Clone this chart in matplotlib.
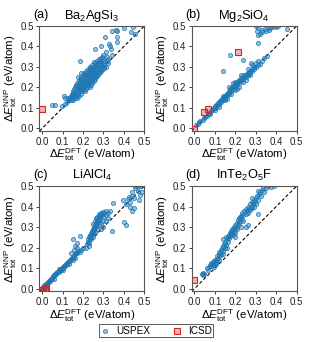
import numpy as np
import matplotlib
matplotlib.use("Agg")
import matplotlib.pyplot as plt

plt.rcParams["font.family"] = ["Liberation Sans", "DejaVu Sans"]
plt.rcParams["mathtext.fontset"] = "custom"
plt.rcParams["mathtext.rm"] = "Liberation Sans"
plt.rcParams["mathtext.it"] = "Liberation Sans:italic"
plt.rcParams["mathtext.bf"] = "Liberation Sans:bold"

# panel titles
labels = ["(a)", "(b)", "(c)", "(d)"]
formulas = [r"Ba$_2$AgSi$_3$", r"Mg$_2$SiO$_4$", r"LiAlCl$_4$", r"InTe$_2$O$_5$F"]
ticks = [0.0, 0.1, 0.2, 0.3, 0.4, 0.5]

# (DFT, NNP) energies in eV/atom
uspex_a = [
    (0.046, 0.114), (0.062, 0.114), (0.098, 0.107), (0.107, 0.16), (0.114, 0.148),
    (0.11, 0.12), (0.12, 0.13), (0.125, 0.15),
    (0.13, 0.14), (0.14, 0.14), (0.15, 0.14),
    (0.13, 0.15), (0.145, 0.15), (0.16, 0.15), (0.17, 0.15),
    (0.14, 0.16), (0.15, 0.16), (0.165, 0.16), (0.18, 0.16),
    (0.145, 0.17), (0.16, 0.17), (0.175, 0.17), (0.19, 0.17),
    (0.15, 0.18), (0.165, 0.18), (0.18, 0.18), (0.195, 0.18), (0.21, 0.18),
    (0.155, 0.19), (0.17, 0.19), (0.185, 0.19), (0.2, 0.19), (0.215, 0.19),
    (0.16, 0.2), (0.175, 0.2), (0.19, 0.2), (0.205, 0.2), (0.22, 0.2), (0.235, 0.2),
    (0.165, 0.21), (0.18, 0.21), (0.195, 0.21), (0.21, 0.21), (0.225, 0.21), (0.24, 0.21),
    (0.17, 0.22), (0.185, 0.22), (0.2, 0.22), (0.215, 0.22), (0.23, 0.22), (0.245, 0.22),
    (0.18, 0.23), (0.195, 0.23), (0.21, 0.23), (0.225, 0.23), (0.24, 0.23), (0.255, 0.23),
    (0.185, 0.24), (0.2, 0.24), (0.215, 0.24), (0.23, 0.24), (0.245, 0.24), (0.26, 0.24),
    (0.19, 0.25), (0.205, 0.25), (0.22, 0.25), (0.235, 0.25), (0.25, 0.25), (0.265, 0.25),
    (0.2, 0.26), (0.215, 0.26), (0.23, 0.26), (0.245, 0.26), (0.26, 0.26), (0.275, 0.26),
    (0.205, 0.27), (0.22, 0.27), (0.235, 0.27), (0.25, 0.27), (0.265, 0.27), (0.28, 0.27),
    (0.215, 0.28), (0.23, 0.28), (0.245, 0.28), (0.26, 0.28), (0.275, 0.28), (0.29, 0.28),
    (0.225, 0.29), (0.24, 0.29), (0.255, 0.29), (0.27, 0.29), (0.285, 0.29), (0.3, 0.29),
    (0.235, 0.3), (0.25, 0.3), (0.265, 0.3), (0.28, 0.3), (0.295, 0.3), (0.31, 0.3),
    (0.245, 0.31), (0.26, 0.31), (0.275, 0.31), (0.29, 0.31), (0.305, 0.31),
    (0.26, 0.32), (0.275, 0.32), (0.29, 0.32), (0.305, 0.32), (0.32, 0.32),
    (0.27, 0.33), (0.285, 0.33), (0.3, 0.33), (0.315, 0.33),
    (0.28, 0.34), (0.3, 0.34), (0.32, 0.34), (0.295, 0.35), (0.315, 0.35), (0.3, 0.36),
    (0.152, 0.175), (0.172, 0.205), (0.192, 0.235), (0.212, 0.265), (0.232, 0.295),
    (0.252, 0.325), (0.168, 0.165), (0.188, 0.195), (0.208, 0.225), (0.228, 0.255),
    (0.248, 0.285), (0.268, 0.315), (0.288, 0.345), (0.142, 0.155), (0.222, 0.215),
    (0.242, 0.235), (0.262, 0.255), (0.282, 0.275), (0.302, 0.295), (0.198, 0.185),
    (0.176, 0.249), (0.19, 0.27), (0.184, 0.33), (0.257, 0.388), (0.29, 0.404),
    (0.314, 0.371), (0.339, 0.388), (0.326, 0.412), (0.332, 0.4), (0.365, 0.42),
    (0.306, 0.445), (0.342, 0.474), (0.36, 0.482), (0.368, 0.477), (0.368, 0.445),
    (0.4, 0.49), (0.436, 0.469), (0.445, 0.493), (0.454, 0.463), (0.34, 0.36),
]
icsd_a = [(0.0, 0.095)]

uspex_b = [
    (0.01, 0.015), (0.02, 0.02), (0.025, 0.03), (0.03, 0.035), (0.04, 0.04),
    (0.045, 0.05), (0.05, 0.055), (0.06, 0.06), (0.065, 0.07), (0.07, 0.075),
    (0.075, 0.07), (0.08, 0.085), (0.085, 0.09), (0.09, 0.095), (0.095, 0.1),
    (0.1, 0.1), (0.1, 0.11), (0.105, 0.115), (0.11, 0.11), (0.115, 0.125),
    (0.12, 0.12), (0.12, 0.13), (0.125, 0.135), (0.13, 0.13), (0.13, 0.14),
    (0.135, 0.145), (0.14, 0.14), (0.14, 0.15), (0.145, 0.155), (0.15, 0.15),
    (0.15, 0.16), (0.155, 0.165), (0.16, 0.16), (0.16, 0.17), (0.165, 0.175),
    (0.17, 0.17), (0.17, 0.18), (0.175, 0.19), (0.18, 0.18), (0.18, 0.19),
    (0.185, 0.2), (0.19, 0.19), (0.19, 0.2), (0.195, 0.21), (0.2, 0.2),
    (0.2, 0.21), (0.205, 0.22), (0.21, 0.21), (0.21, 0.22), (0.215, 0.23),
    (0.22, 0.22), (0.22, 0.23), (0.225, 0.24), (0.23, 0.23), (0.23, 0.24),
    (0.235, 0.25), (0.24, 0.24), (0.24, 0.25), (0.245, 0.26), (0.25, 0.25),
    (0.25, 0.26), (0.255, 0.265), (0.26, 0.26), (0.26, 0.27), (0.265, 0.275),
    (0.27, 0.27), (0.27, 0.28), (0.28, 0.28), (0.28, 0.29), (0.29, 0.29),
    (0.29, 0.3), (0.3, 0.3), (0.31, 0.31), (0.32, 0.315), (0.33, 0.33),
    (0.12, 0.105), (0.15, 0.14), (0.18, 0.17), (0.2, 0.185), (0.21, 0.19),
    (0.24, 0.225), (0.27, 0.26), (0.16, 0.145), (0.1, 0.09), (0.22, 0.2), (0.25, 0.235),
    (0.17, 0.2), (0.19, 0.22), (0.23, 0.26), (0.26, 0.29), (0.28, 0.31),
    (0.3, 0.32), (0.31, 0.33), (0.2, 0.225), (0.14, 0.16),
    (0.174, 0.36), (0.142, 0.28), (0.239, 0.334), (0.309, 0.415), (0.353, 0.352),
    (0.277, 0.318), (0.34, 0.345),
    (0.305, 0.474), (0.313, 0.49), (0.32, 0.46), (0.332, 0.48), (0.345, 0.485),
    (0.358, 0.493), (0.37, 0.49), (0.38, 0.497), (0.39, 0.5), (0.4, 0.495),
    (0.313, 0.455), (0.33, 0.47), (0.35, 0.475), (0.365, 0.48), (0.454, 0.485),
    (0.41, 0.5), (0.3, 0.5),
]
icsd_b = [(0.0, -0.003), (0.049, 0.078), (0.068, 0.094), (0.215, 0.375)]

uspex_c = [
    (0.0, 0.005), (0.005, 0.01), (0.01, 0.01), (0.01, 0.02), (0.015, 0.015),
    (0.02, 0.02), (0.02, 0.025), (0.025, 0.03), (0.03, 0.03), (0.03, 0.035),
    (0.035, 0.04), (0.04, 0.04), (0.04, 0.045), (0.045, 0.05), (0.05, 0.05),
    (0.05, 0.055), (0.055, 0.06), (0.06, 0.06), (0.06, 0.065), (0.065, 0.07),
    (0.07, 0.07), (0.07, 0.075), (0.075, 0.08), (0.08, 0.08), (0.08, 0.085),
    (0.085, 0.09), (0.09, 0.09), (0.09, 0.095), (0.095, 0.1), (0.1, 0.1),
    (0.1, 0.105), (0.105, 0.11), (0.11, 0.11), (0.11, 0.115), (0.115, 0.12),
    (0.12, 0.12), (0.12, 0.125), (0.125, 0.13), (0.13, 0.135), (0.135, 0.14),
    (0.14, 0.145), (0.145, 0.15), (0.15, 0.155), (0.155, 0.16), (0.16, 0.17),
    (0.165, 0.175), (0.17, 0.175), (0.175, 0.185), (0.185, 0.18), (0.19, 0.19),
    (0.2, 0.2), (0.1, 0.09), (0.13, 0.12), (0.15, 0.14), (0.16, 0.15),
    (0.06, 0.05), (0.02, 0.01), (0.01, 0.0), (0.08, 0.095),
    (0.15, 0.24), (0.185, 0.255), (0.17, 0.225), (0.17, 0.2), (0.14, 0.175),
    (0.155, 0.19), (0.16, 0.21),
    (0.22, 0.22), (0.225, 0.23), (0.23, 0.225), (0.225, 0.24), (0.23, 0.25),
    (0.235, 0.245), (0.235, 0.26), (0.24, 0.255), (0.24, 0.27), (0.245, 0.265),
    (0.245, 0.28), (0.25, 0.275), (0.25, 0.29), (0.255, 0.285), (0.255, 0.3),
    (0.26, 0.295), (0.26, 0.31), (0.265, 0.305), (0.265, 0.32), (0.27, 0.315),
    (0.27, 0.33), (0.275, 0.325), (0.275, 0.34), (0.28, 0.335), (0.28, 0.35),
    (0.285, 0.345), (0.285, 0.36), (0.29, 0.355), (0.29, 0.37), (0.295, 0.365),
    (0.3, 0.375), (0.305, 0.37), (0.31, 0.38), (0.3, 0.35), (0.31, 0.36),
    (0.32, 0.37), (0.3, 0.33), (0.29, 0.32), (0.28, 0.31), (0.27, 0.29),
    (0.26, 0.27), (0.25, 0.25), (0.24, 0.24), (0.23, 0.21), (0.215, 0.2),
    (0.25, 0.315), (0.26, 0.33), (0.27, 0.35), (0.28, 0.365), (0.265, 0.345),
    (0.3, 0.3), (0.29, 0.29), (0.31, 0.33), (0.32, 0.345),
    (0.349, 0.416), (0.34, 0.28), (0.41, 0.31), (0.4, 0.325), (0.33, 0.38),
    (0.41, 0.41), (0.42, 0.435), (0.43, 0.42), (0.425, 0.445), (0.44, 0.45),
    (0.45, 0.44), (0.44, 0.47), (0.455, 0.49), (0.47, 0.475), (0.48, 0.455),
    (0.485, 0.5), (0.475, 0.43), (0.49, 0.47), (0.46, 0.5), (0.43, 0.4),
    (0.44, 0.38), (0.45, 0.395), (0.398, 0.432), (0.47, 0.5),
]
icsd_c = [(0.0, -0.004), (0.012, 0.0), (0.02, 0.006)]

uspex_d = [
    (0.035, 0.07), (0.04, 0.065), (0.045, 0.07), (0.04, 0.075), (0.06, 0.1),
    (0.065, 0.09), (0.07, 0.105), (0.075, 0.115), (0.08, 0.11), (0.085, 0.12),
    (0.09, 0.13), (0.09, 0.115), (0.095, 0.135), (0.1, 0.125), (0.1, 0.14),
    (0.105, 0.13), (0.11, 0.145), (0.11, 0.16), (0.115, 0.15), (0.12, 0.165),
    (0.12, 0.14), (0.125, 0.175), (0.13, 0.165), (0.13, 0.19), (0.135, 0.2),
    (0.14, 0.185), (0.14, 0.21), (0.145, 0.22), (0.15, 0.2), (0.15, 0.23),
    (0.155, 0.215), (0.16, 0.24), (0.165, 0.25), (0.165, 0.23), (0.17, 0.26),
    (0.17, 0.245), (0.175, 0.255), (0.175, 0.27), (0.18, 0.265), (0.18, 0.28),
    (0.185, 0.27), (0.185, 0.29), (0.19, 0.26), (0.19, 0.285), (0.195, 0.3),
    (0.2, 0.29), (0.2, 0.31), (0.205, 0.3), (0.21, 0.32), (0.21, 0.29),
    (0.215, 0.335), (0.22, 0.32), (0.22, 0.345), (0.225, 0.33), (0.23, 0.355),
    (0.235, 0.34), (0.235, 0.37), (0.24, 0.36), (0.245, 0.38), (0.25, 0.365),
    (0.25, 0.39), (0.255, 0.38), (0.26, 0.4), (0.26, 0.37), (0.265, 0.39),
    (0.27, 0.41), (0.27, 0.385), (0.275, 0.4), (0.28, 0.42), (0.28, 0.395),
    (0.285, 0.41), (0.29, 0.43), (0.295, 0.42), (0.3, 0.44), (0.3, 0.41),
    (0.305, 0.45), (0.31, 0.43), (0.315, 0.46), (0.32, 0.47), (0.325, 0.45),
    (0.33, 0.48), (0.335, 0.49), (0.34, 0.47), (0.35, 0.49), (0.36, 0.5),
    (0.375, 0.495), (0.39, 0.5), (0.31, 0.365), (0.26, 0.31), (0.25, 0.3),
    (0.2, 0.27), (0.23, 0.3), (0.24, 0.33), (0.14, 0.24), (0.155, 0.25),
    (0.16, 0.2), (0.12, 0.18), (0.08, 0.125), (0.095, 0.105), (0.105, 0.12),
    (0.14, 0.17), (0.195, 0.275), (0.215, 0.31), (0.225, 0.35), (0.29, 0.4),
    (0.28, 0.44), (0.31, 0.475), (0.2, 0.25),
]
icsd_d = [(0.0, 0.045)]

uspex = [uspex_a, uspex_b, uspex_c, uspex_d]
icsd = [icsd_a, icsd_b, icsd_c, icsd_d]

blue_face = (0.12, 0.47, 0.71, 0.45)
blue_edge = (0.12, 0.47, 0.71, 0.85)
red_face = (0.84, 0.15, 0.16, 0.35)
red = "#d62728"
lo, hi = -0.013, 0.5

fig = plt.figure(figsize=(3.12, 3.42), dpi=100)
positions = [
    [0.1266, 0.617, 0.336, 0.307],
    [0.6144, 0.617, 0.3365, 0.307],
    [0.1266, 0.1477, 0.336, 0.3085],
    [0.6144, 0.1477, 0.3365, 0.3085],
]

for i in range(4):
    ax = fig.add_axes(positions[i])
    u = np.array(uspex[i]).T
    c = np.array(icsd[i]).T
    ax.plot([lo, hi], [lo, hi], color="k", ls="--", lw=0.8, dashes=(3, 2), zorder=1)
    ax.scatter(u[0], u[1], s=9, facecolor=blue_face, edgecolor=blue_edge,
               linewidth=0.6, zorder=2)
    ax.scatter(c[0], c[1], s=18, marker="s", facecolor=red_face,
               edgecolor=red, linewidth=0.8, zorder=3)
    ax.set_xlim(lo, hi)
    ax.set_ylim(lo, hi)
    ax.set_xticks(ticks)
    ax.set_yticks(ticks)
    ax.tick_params(labelsize=7.0, length=2.5, width=0.6, pad=1.5, colors="#222")
    for sp in ax.spines.values():
        sp.set_color("#555")
        sp.set_linewidth(0.8)
    ax.set_xlabel(r"$\Delta E_{\rm tot}^{\rm DFT}$ (eV/atom)", fontsize=8.2, labelpad=0)
    ax.set_ylabel(r"$\Delta E_{\rm tot}^{\rm NNP}$ (eV/atom)", fontsize=8.2, labelpad=1)
    ax.set_title(formulas[i], fontsize=9.3, pad=5)
    ax.text(-0.063, 1.075, labels[i], transform=ax.transAxes, fontsize=9.0,
            ha="left", va="baseline")

h1 = plt.scatter([], [], s=9, facecolor=blue_face, edgecolor=blue_edge, linewidth=0.6)
h2 = plt.scatter([], [], s=18, marker="s", facecolor=red_face, edgecolor=red,
                 linewidth=0.8)
leg = fig.legend([h1, h2], ["USPEX", "ICSD"], loc="lower center",
                 bbox_to_anchor=(0.5, 0.0), ncol=2, fontsize=7.2,
                 frameon=True, fancybox=False, handletextpad=0.6,
                 columnspacing=2.2, borderpad=0.15, handlelength=1.0)
leg.get_frame().set_edgecolor("#333")
leg.get_frame().set_linewidth(0.7)

fig.savefig("out.png", dpi=100)
